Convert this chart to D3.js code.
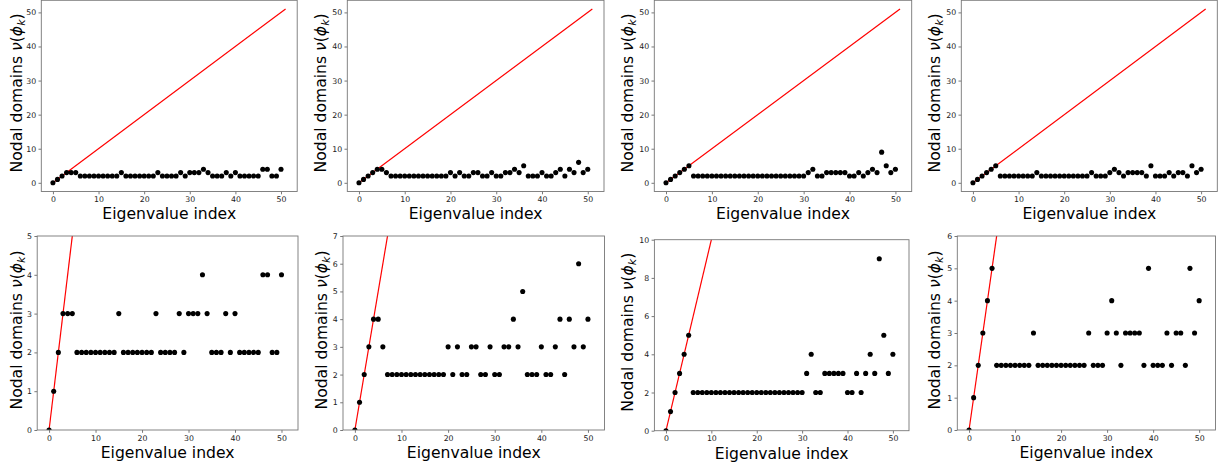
<!DOCTYPE html>
<html>
<head>
<meta charset="utf-8">
<script src="https://cdn.jsdelivr.net/npm/d3@7"></script>
<style>
  html, body { margin: 0; padding: 0; background: #fff; }
  svg { display: block; font-family: "DejaVu Sans", sans-serif; }
</style>
</head>
<body>
<svg id="chart" width="1225" height="467"></svg>
<script>
// ---------------- data ----------------
const eigenIndex = d3.range(0, 51); // eigenvalue indices 0..50

const nodal1 = [0,1,2,3,3,3, 2,2,2,2,2,2,2,2,2, 3, 2,2,2,2,2,2,2, 3, 2,2,2,2, 3, 2, 3,3,3, 4, 3, 2,2,2, 3, 2, 3, 2,2,2,2,2, 4,4, 2,2, 4];
const nodal2 = [0,1,2,3,4,4,3, 2,2,2,2,2,2,2,2,2,2,2,2,2, 3,2,3,2,2,3,3,2,2,3,2,2,3,3,4,3,5,2,2,2,3,2,2,3,4,2,4,3,6,3,4];
const nodal3 = [0,1,2,3,4,5, 2,2,2,2,2,2,2,2,2,2,2,2,2,2,2,2,2,2,2,2,2,2,2,2,2, 3,4,2,2,3,3,3,3,3,2,2,3,2,3,4,3,9,5,3,4];
const nodal4 = [0,1,2,3,4,5, 2,2,2,2,2,2,2,2, 3, 2,2,2,2,2,2,2,2,2,2,2, 3,2,2,2,3,4,3,2,3,3,3,3,2,5,2,2,2,3,2,3,3,2,5,3,4];
const series = [nodal1, nodal2, nodal3, nodal4];

const refLineX = [0, 51];           // red reference line y = x
const xTicks = [0, 10, 20, 30, 40, 50];
const topYTicks = [0, 10, 20, 30, 40, 50];
const bottomYMax = [5, 7, 10, 6];
const bottomYTicks = [
  [0, 1, 2, 3, 4, 5],
  [0, 1, 2, 3, 4, 5, 6, 7],
  [0, 2, 4, 6, 8, 10],
  [0, 1, 2, 3, 4, 5, 6]
];
const xLabel = "Eigenvalue index";

// ---------------- layout ----------------
const topFrames = [
  {l: 41.3, r: 297.2, t: 0.3, b: 191.5, lx: 21.7},
  {l: 347.3, r: 604, t: 0.3, b: 191.5, lx: 326.3},
  {l: 654.3, r: 911.7, t: 0.3, b: 191.5, lx: 633.3},
  {l: 961.3, r: 1217.3, t: 0.3, b: 191.5, lx: 940}
];
const bottomFrames = [
  {l: 37.2, r: 298, t: 236, b: 430, lx: 22},
  {l: 343, r: 604.5, t: 236, b: 430, lx: 327},
  {l: 654.4, r: 909, t: 239.7, b: 430.7, lx: 633.3},
  {l: 957.3, r: 1215.5, t: 236, b: 430, lx: 940}
];

const svg = d3.select("#chart");
const FS_LABEL = 15.6, FS_TICK = 7.8;
const fmt = d3.format("d");

function drawPanel(id, fr, yDomain, yTicks, values) {
  const x = d3.scaleLinear().domain([-2.55, 53.55]).range([fr.l, fr.r]);
  const y = d3.scaleLinear().domain(yDomain).range([fr.b, fr.t]);
  const g = svg.append("g");

  g.append("clipPath").attr("id", "clip" + id)
    .append("rect").attr("x", fr.l).attr("y", fr.t)
    .attr("width", fr.r - fr.l).attr("height", fr.b - fr.t);

  const plot = g.append("g").attr("clip-path", `url(#clip${id})`);

  // reference line
  plot.append("path")
    .datum(refLineX)
    .attr("d", d3.line().x(d => x(d)).y(d => y(d)))
    .attr("fill", "none").attr("stroke", "#ff0000").attr("stroke-width", 1.2);

  // points
  plot.selectAll("circle").data(values).join("circle")
    .attr("cx", (d, i) => x(eigenIndex[i]))
    .attr("cy", d => y(d))
    .attr("r", 2.55)
    .attr("fill", "#000");

  // x axis
  const xAxis = d3.axisBottom(x).tickValues(xTicks).tickFormat(fmt).tickSize(2.8).tickPadding(2.2);
  const gx = g.append("g").attr("transform", `translate(0,${fr.b})`).call(xAxis);
  gx.select(".domain").remove();
  gx.selectAll("line").attr("stroke", "#555").attr("stroke-width", 0.8);
  gx.selectAll("text").attr("font-size", FS_TICK).attr("fill", "#222")
    .attr("font-family", "DejaVu Sans");

  // y axis
  const yAxis = d3.axisLeft(y).tickValues(yTicks).tickFormat(fmt).tickSize(2.8).tickPadding(2.4);
  const gy = g.append("g").attr("transform", `translate(${fr.l},0)`).call(yAxis);
  gy.select(".domain").remove();
  gy.selectAll("line").attr("stroke", "#555").attr("stroke-width", 0.8);
  gy.selectAll("text").attr("font-size", FS_TICK).attr("fill", "#222")
    .attr("font-family", "DejaVu Sans");

  // frame
  g.append("rect")
    .attr("x", fr.l).attr("y", fr.t)
    .attr("width", fr.r - fr.l).attr("height", fr.b - fr.t)
    .attr("fill", "none").attr("stroke", "#777").attr("stroke-width", 0.9);

  // x label
  g.append("text")
    .attr("x", (fr.l + fr.r) / 2).attr("y", fr.b + 27.8)
    .attr("text-anchor", "middle").attr("font-size", FS_LABEL).attr("fill", "#000")
    .text(xLabel);

  // y label
  const cy = (fr.t + fr.b) / 2 - 3;
  const yl = g.append("text")
    .attr("transform", `translate(${fr.lx},${cy}) rotate(-90)`)
    .attr("text-anchor", "middle").attr("font-size", FS_LABEL).attr("fill", "#000");
  yl.append("tspan").text("Nodal domains ");
  yl.append("tspan").attr("font-style", "italic").text("ν");
  yl.append("tspan").text("(");
  yl.append("tspan").attr("font-style", "italic").text("ϕ");
  yl.append("tspan").attr("font-style", "italic").attr("font-size", FS_LABEL * 0.7)
    .attr("dy", 3).text("k");
  yl.append("tspan").attr("dy", -3).text(")");
}

series.forEach((vals, i) => {
  drawPanel("t" + i, topFrames[i], [-2.55, 53.55], topYTicks, vals);
  drawPanel("b" + i, bottomFrames[i], [0, bottomYMax[i]], bottomYTicks[i], vals);
});
</script>
</body>
</html>
